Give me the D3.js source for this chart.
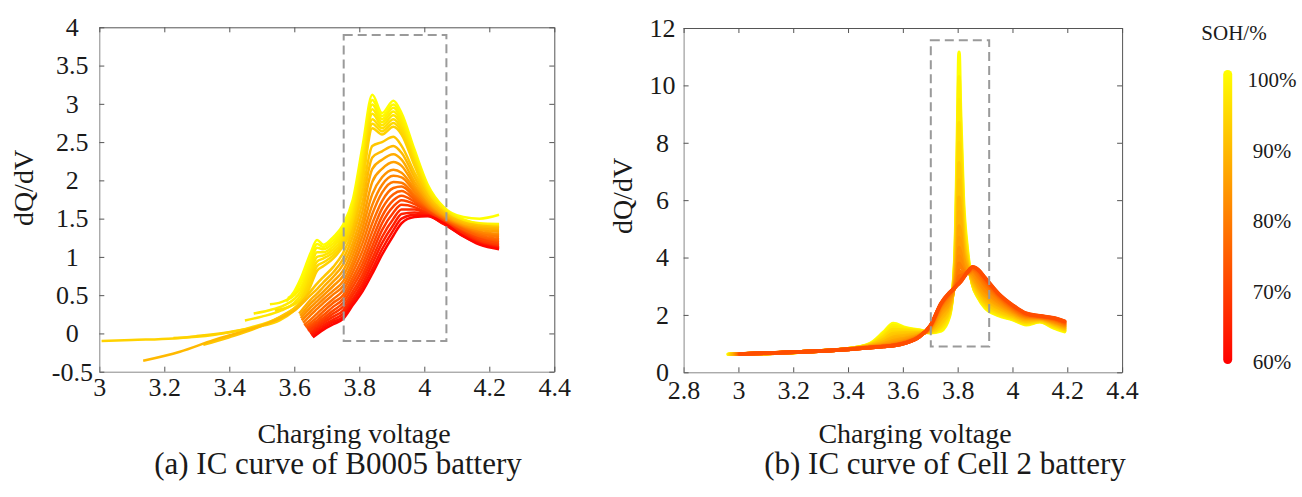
<!DOCTYPE html>
<html><head><meta charset="utf-8">
<script src="https://cdn.jsdelivr.net/npm/d3@7"></script>
<style>
html,body{margin:0;padding:0;background:#fff;}
svg{display:block;}
text{font-family:"Liberation Serif","Times New Roman",serif;fill:#1a1a1a;}
</style></head><body>
<svg id="c" width="1302" height="497"></svg>
<script>
// ---------- (a) B0005 : IC curves ----------
const leftV = [3.62, 3.65, 3.67, 3.69, 3.72, 3.75, 3.78, 3.81, 3.84, 3.87, 3.905, 3.93, 3.97, 4.01, 4.06, 4.12, 4.17, 4.23];
const leftSOH = [100, 99, 98, 97, 96, 95, 94, 93, 91, 89, 87, 85, 83, 81, 79, 77, 75, 73, 71, 69, 67, 65, 63, 61];
const leftTails = [
  [[3.575, 0.42], [3.60, 0.55]],
  [[3.58, 0.46], [3.60, 0.52]],
  [[3.525, 0.38], [3.56, 0.41], [3.60, 0.5]],
  [[3.475, 0.26], [3.52, 0.3], [3.57, 0.37], [3.60, 0.45]],
  [[3.448, 0.17], [3.5, 0.22], [3.56, 0.3], [3.60, 0.4]],
  [[3.54, 0.3], [3.59, 0.36]],
  [[3.228, -0.06], [3.35, -0.02], [3.45, 0.06], [3.55, 0.2], [3.60, 0.33]],
  [[3.007, -0.1], [3.1, -0.085], [3.228, -0.065], [3.3, -0.035], [3.402, 0.02], [3.48, 0.08], [3.556, 0.174], [3.60, 0.3]],
  [[3.32, -0.15], [3.4, -0.05], [3.5, 0.1], [3.57, 0.25], [3.61, 0.36]],
  [[3.135, -0.358], [3.248, -0.24], [3.351, -0.088], [3.454, 0.043], [3.556, 0.196], [3.60, 0.3]],
  [[3.615, 0.26]], [[3.618, 0.23]], [[3.62, 0.2]], [[3.623, 0.17]], [[3.627, 0.14]],
  [[3.63, 0.11]], [[3.633, 0.09]], [[3.637, 0.07]], [[3.64, 0.05]], [[3.643, 0.03]],
  [[3.647, 0.01]], [[3.65, -0.01]], [[3.653, -0.03]], [[3.657, -0.05]]
];
const leftQ = [
  [0.72, 1.05, 1.22, 1.16, 1.26, 1.42, 1.75, 2.45, 3.12, 2.88, 3.04, 2.88, 2.40, 1.95, 1.65, 1.52, 1.50, 1.55],
  [0.66, 0.98, 1.17, 1.13, 1.22, 1.38, 1.70, 2.38, 3.05, 2.84, 2.99, 2.84, 2.37, 1.93, 1.64, 1.49, 1.44, 1.43],
  [0.60, 0.92, 1.12, 1.10, 1.18, 1.34, 1.65, 2.31, 2.99, 2.80, 2.95, 2.80, 2.34, 1.91, 1.63, 1.48, 1.43, 1.42],
  [0.55, 0.86, 1.06, 1.06, 1.14, 1.30, 1.60, 2.25, 2.93, 2.76, 2.90, 2.76, 2.31, 1.89, 1.62, 1.47, 1.42, 1.41],
  [0.50, 0.80, 1.00, 1.02, 1.10, 1.26, 1.55, 2.18, 2.87, 2.72, 2.85, 2.72, 2.28, 1.87, 1.61, 1.46, 1.41, 1.40],
  [0.45, 0.74, 0.94, 0.98, 1.06, 1.22, 1.50, 2.12, 2.80, 2.68, 2.80, 2.68, 2.25, 1.85, 1.60, 1.45, 1.40, 1.39],
  [0.42, 0.68, 0.88, 0.93, 1.02, 1.18, 1.45, 2.05, 2.74, 2.64, 2.75, 2.64, 2.22, 1.83, 1.59, 1.44, 1.39, 1.38],
  [0.38, 0.62, 0.82, 0.88, 0.98, 1.14, 1.40, 1.98, 2.68, 2.60, 2.70, 2.60, 2.19, 1.81, 1.58, 1.43, 1.38, 1.37],
  [null, 0.55, 0.65, 0.74, 0.87, 1.05, 1.35, 1.85, 2.45, 2.50, 2.57, 2.45, 2.10, 1.80, 1.58, 1.45, 1.41, 1.39],
  [null, 0.50, 0.58, 0.67, 0.80, 0.97, 1.27, 1.72, 2.30, 2.38, 2.45, 2.36, 2.04, 1.76, 1.56, 1.43, 1.39, 1.37],
  [null, 0.44, 0.52, 0.61, 0.74, 0.90, 1.18, 1.60, 2.15, 2.27, 2.34, 2.27, 1.98, 1.73, 1.54, 1.41, 1.37, 1.35],
  [null, 0.39, 0.47, 0.55, 0.68, 0.82, 1.10, 1.48, 1.98, 2.15, 2.24, 2.19, 1.93, 1.70, 1.52, 1.40, 1.35, 1.33],
  [null, 0.34, 0.42, 0.50, 0.62, 0.75, 1.02, 1.38, 1.82, 2.04, 2.14, 2.10, 1.89, 1.68, 1.51, 1.39, 1.33, 1.30],
  [null, 0.29, 0.37, 0.45, 0.56, 0.68, 0.94, 1.28, 1.68, 1.94, 2.06, 2.04, 1.85, 1.66, 1.50, 1.38, 1.32, 1.28],
  [null, 0.24, 0.32, 0.40, 0.51, 0.62, 0.87, 1.18, 1.56, 1.84, 1.98, 1.97, 1.81, 1.64, 1.49, 1.37, 1.30, 1.26],
  [null, 0.18, 0.26, 0.34, 0.45, 0.56, 0.80, 1.08, 1.44, 1.73, 1.90, 1.92, 1.78, 1.62, 1.48, 1.36, 1.28, 1.23],
  [null, 0.14, 0.21, 0.29, 0.40, 0.50, 0.73, 0.99, 1.33, 1.63, 1.82, 1.86, 1.75, 1.61, 1.47, 1.35, 1.26, 1.21],
  [null, null, 0.17, 0.24, 0.35, 0.45, 0.67, 0.91, 1.23, 1.53, 1.74, 1.80, 1.72, 1.60, 1.46, 1.33, 1.24, 1.19],
  [null, null, 0.14, 0.20, 0.30, 0.40, 0.61, 0.84, 1.14, 1.44, 1.66, 1.74, 1.69, 1.59, 1.46, 1.32, 1.23, 1.17],
  [null, null, 0.11, 0.17, 0.26, 0.35, 0.55, 0.77, 1.06, 1.35, 1.58, 1.68, 1.65, 1.57, 1.45, 1.31, 1.21, 1.15],
  [null, null, 0.08, 0.14, 0.22, 0.30, 0.50, 0.71, 0.98, 1.26, 1.50, 1.62, 1.62, 1.56, 1.44, 1.30, 1.19, 1.13],
  [null, null, 0.05, 0.11, 0.18, 0.26, 0.45, 0.65, 0.91, 1.18, 1.42, 1.56, 1.58, 1.55, 1.43, 1.28, 1.18, 1.12],
  [null, null, 0.02, 0.08, 0.15, 0.22, 0.41, 0.60, 0.84, 1.10, 1.35, 1.50, 1.55, 1.54, 1.43, 1.27, 1.17, 1.11],
  [null, null, -0.01, 0.05, 0.12, 0.19, 0.37, 0.55, 0.78, 1.03, 1.28, 1.44, 1.52, 1.53, 1.44, 1.27, 1.16, 1.10]
];
const leftXTicks = [3, 3.2, 3.4, 3.6, 3.8, 4, 4.2, 4.4];
const leftYTicks = [-0.5, 0, 0.5, 1, 1.5, 2, 2.5, 3, 3.5, 4];
const leftZoomV = [3.752, 4.068];
const leftZoomQ = [-0.1, 3.9];

// ---------- (b) Cell 2 : IC curves ----------
const rightV = [2.96, 3.10, 3.25, 3.40, 3.48, 3.53, 3.565, 3.61, 3.66, 3.70, 3.74, 3.77, 3.79, 3.80, 3.805, 3.81, 3.82, 3.835, 3.855, 3.875, 3.90, 3.95, 4.00, 4.05, 4.10, 4.15, 4.19];
const rightStartV = [2.962, 2.964, 2.966, 2.968, 2.97, 2.973, 2.976, 2.979, 2.982, 2.985, 2.988, 2.99, 2.993, 2.995, 2.998, 3.0, 3.002, 3.004, 3.006, 3.006];
const rightSOH = [100, 98, 97, 95, 94, 92, 91, 89, 88, 86, 85, 83, 82, 80, 79, 77, 76, 74, 73, 72];
const rightQ = [
  [0.63, 0.66, 0.72, 0.82, 1.00, 1.40, 1.70, 1.55, 1.47, 1.38, 1.45, 1.95, 4.00, 8.60, 11.15, 9.20, 6.20, 4.30, 3.05, 2.60, 2.25, 1.98, 1.84, 1.66, 1.76, 1.55, 1.42],
  [0.63, 0.66, 0.72, 0.82, 0.98, 1.35, 1.63, 1.52, 1.46, 1.39, 1.50, 2.00, 3.90, 7.90, 10.30, 8.70, 5.90, 4.20, 3.05, 2.62, 2.28, 2.00, 1.86, 1.68, 1.77, 1.57, 1.44],
  [0.63, 0.66, 0.72, 0.82, 0.97, 1.30, 1.56, 1.49, 1.44, 1.40, 1.55, 2.05, 3.78, 7.30, 9.50, 8.20, 5.60, 4.10, 3.06, 2.64, 2.31, 2.03, 1.88, 1.70, 1.78, 1.59, 1.46],
  [0.63, 0.66, 0.72, 0.82, 0.96, 1.25, 1.49, 1.46, 1.42, 1.41, 1.60, 2.10, 3.66, 6.80, 8.70, 7.70, 5.35, 4.00, 3.08, 2.67, 2.35, 2.06, 1.90, 1.73, 1.80, 1.61, 1.48],
  [0.63, 0.66, 0.72, 0.81, 0.95, 1.20, 1.42, 1.42, 1.40, 1.42, 1.66, 2.15, 3.55, 6.25, 8.00, 7.20, 5.10, 3.92, 3.10, 2.71, 2.40, 2.10, 1.93, 1.75, 1.81, 1.63, 1.50],
  [0.63, 0.66, 0.72, 0.81, 0.94, 1.15, 1.35, 1.38, 1.38, 1.43, 1.72, 2.20, 3.45, 5.75, 7.30, 6.60, 4.85, 3.85, 3.14, 2.77, 2.45, 2.14, 1.96, 1.78, 1.83, 1.66, 1.52],
  [0.63, 0.66, 0.72, 0.81, 0.93, 1.10, 1.28, 1.33, 1.36, 1.45, 1.80, 2.26, 3.35, 5.30, 6.70, 6.10, 4.65, 3.78, 3.18, 2.83, 2.50, 2.19, 1.99, 1.80, 1.84, 1.68, 1.54],
  [0.63, 0.66, 0.72, 0.81, 0.92, 1.06, 1.22, 1.28, 1.34, 1.46, 1.88, 2.32, 3.28, 4.90, 6.10, 5.65, 4.45, 3.72, 3.22, 2.89, 2.56, 2.24, 2.02, 1.83, 1.86, 1.70, 1.56],
  [0.64, 0.66, 0.72, 0.81, 0.91, 1.02, 1.16, 1.23, 1.32, 1.48, 1.96, 2.38, 3.20, 4.55, 5.60, 5.25, 4.28, 3.66, 3.27, 2.95, 2.62, 2.29, 2.05, 1.85, 1.87, 1.72, 1.58],
  [0.64, 0.66, 0.72, 0.81, 0.90, 0.99, 1.10, 1.19, 1.30, 1.50, 2.04, 2.44, 3.15, 4.25, 5.10, 4.90, 4.10, 3.60, 3.32, 3.01, 2.68, 2.34, 2.08, 1.88, 1.88, 1.74, 1.60],
  [0.64, 0.66, 0.72, 0.81, 0.89, 0.96, 1.05, 1.15, 1.29, 1.52, 2.12, 2.50, 3.10, 4.00, 4.70, 4.55, 3.95, 3.56, 3.38, 3.08, 2.76, 2.39, 2.11, 1.90, 1.89, 1.76, 1.62],
  [0.64, 0.66, 0.72, 0.81, 0.88, 0.94, 1.01, 1.11, 1.28, 1.54, 2.19, 2.56, 3.06, 3.78, 4.35, 4.20, 3.75, 3.50, 3.44, 3.16, 2.84, 2.44, 2.14, 1.92, 1.90, 1.78, 1.64],
  [0.64, 0.67, 0.72, 0.81, 0.88, 0.93, 0.98, 1.08, 1.27, 1.56, 2.25, 2.61, 3.03, 3.60, 4.05, 3.95, 3.62, 3.48, 3.50, 3.26, 2.92, 2.49, 2.17, 1.94, 1.91, 1.80, 1.66],
  [0.64, 0.67, 0.72, 0.80, 0.87, 0.92, 0.96, 1.06, 1.26, 1.58, 2.30, 2.66, 3.00, 3.42, 3.80, 3.72, 3.55, 3.48, 3.54, 3.34, 3.02, 2.55, 2.20, 1.96, 1.92, 1.82, 1.68],
  [0.64, 0.67, 0.72, 0.80, 0.87, 0.91, 0.95, 1.05, 1.25, 1.59, 2.34, 2.70, 2.98, 3.28, 3.55, 3.50, 3.45, 3.48, 3.58, 3.41, 3.09, 2.60, 2.23, 1.98, 1.93, 1.84, 1.70],
  [0.64, 0.67, 0.72, 0.80, 0.86, 0.90, 0.94, 1.04, 1.25, 1.60, 2.37, 2.73, 2.97, 3.18, 3.35, 3.36, 3.40, 3.48, 3.61, 3.48, 3.16, 2.64, 2.26, 2.00, 1.94, 1.86, 1.72],
  [0.64, 0.67, 0.72, 0.80, 0.86, 0.90, 0.93, 1.03, 1.24, 1.61, 2.39, 2.75, 2.96, 3.10, 3.20, 3.24, 3.33, 3.48, 3.64, 3.53, 3.22, 2.68, 2.29, 2.02, 1.95, 1.87, 1.74],
  [0.64, 0.67, 0.72, 0.80, 0.86, 0.90, 0.93, 1.02, 1.24, 1.62, 2.40, 2.76, 2.95, 3.08, 3.14, 3.18, 3.29, 3.48, 3.66, 3.56, 3.27, 2.71, 2.32, 2.04, 1.96, 1.88, 1.76],
  [0.64, 0.67, 0.72, 0.80, 0.86, 0.90, 0.93, 1.02, 1.24, 1.62, 2.41, 2.77, 2.95, 3.06, 3.10, 3.14, 3.27, 3.48, 3.67, 3.57, 3.29, 2.73, 2.34, 2.05, 1.96, 1.89, 1.77],
  [0.64, 0.67, 0.72, 0.80, 0.86, 0.90, 0.93, 1.02, 1.24, 1.62, 2.42, 2.78, 2.96, 3.05, 3.09, 3.15, 3.28, 3.48, 3.68, 3.58, 3.30, 2.74, 2.35, 2.06, 1.97, 1.90, 1.78]
];
const rightXTicks = [2.8, 3, 3.2, 3.4, 3.6, 3.8, 4, 4.2, 4.4];
const rightYTicks = [0, 2, 4, 6, 8, 10, 12];
const rightZoomV = [3.702, 3.915];
const rightZoomQ = [0.9, 11.57];

// ---------- colour bar ----------
const sohTicks = [100, 90, 80, 70, 60];
const sohTickLabels = ["100%", "90%", "80%", "70%", "60%"];

// ================= drawing =================
const svg = d3.select('#c');
const sohColor = d3.scaleLinear().domain([60, 100]).range(['#ff0000', '#ffff00']);

function panel(o) {
  const x = d3.scaleLinear().domain(o.xd).range([o.l, o.r]);
  const y = d3.scaleLinear().domain(o.yd).range([o.b, o.t]);
  const g = svg.append('g');
  const line = d3.line().x(d => x(d[0])).y(d => y(d[1])).curve(d3.curveMonotoneX);
  g.append('g').selectAll('path').data(o.curves).join('path')
    .attr('d', line).attr('fill', 'none')
    .attr('stroke', (d, i) => sohColor(o.soh[i]))
    .attr('stroke-width', o.sw).attr('stroke-linejoin', 'round').attr('stroke-linecap', o.cap);
  // dashed region
  g.append('rect')
    .attr('x', x(o.zv[0])).attr('y', y(o.zq[1]))
    .attr('width', x(o.zv[1]) - x(o.zv[0])).attr('height', y(o.zq[0]) - y(o.zq[1]))
    .attr('fill', 'none').attr('stroke', '#9a9a9a').attr('stroke-width', 2).attr('stroke-dasharray', '9,5');
  // axes
  const bot = g.append('g').attr('transform', `translate(0,${o.b})`)
    .call(d3.axisBottom(x).tickValues(o.xt).tickSizeInner(-5).tickSizeOuter(0).tickPadding(o.xpad).tickFormat(d => String(d)));
  const lef = g.append('g').attr('transform', `translate(${o.l},0)`)
    .call(d3.axisLeft(y).tickValues(o.yt).tickSizeInner(-5).tickSizeOuter(0).tickFormat(d => String(d)));
  g.append('g').attr('transform', `translate(0,${o.t})`)
    .call(d3.axisTop(x).tickValues(o.xt).tickSizeInner(-5).tickSizeOuter(0).tickFormat(''));
  g.append('g').attr('transform', `translate(${o.r},0)`)
    .call(d3.axisRight(y).tickValues(o.yt).tickSizeInner(-5).tickSizeOuter(0).tickFormat(''));
  g.selectAll('.domain').attr('stroke', '#555');
  g.selectAll('.tick line').attr('stroke', '#555');
  bot.select('.domain').attr('stroke', '#888');
  lef.select('.domain').attr('stroke', '#888');
  g.selectAll('.tick text').style('font-family', '"Liberation Serif","Times New Roman",serif')
    .style('font-size', '26px').attr('fill', '#1a1a1a');
  lef.selectAll('.tick text').attr('text-anchor', 'middle').attr('x', -o.ypad);
  // labels
  svg.append('text').attr('x', o.xlx).attr('y', 443).attr('text-anchor', 'middle')
    .style('font-size', '28px').text('Charging voltage');
  svg.append('text').attr('transform', `translate(${o.ylx},${o.yly}) rotate(-90)`).attr('text-anchor', 'middle')
    .style('font-size', '28px').text('dQ/dV');
  svg.append('text').attr('x', o.capx).attr('y', 474).attr('text-anchor', 'middle')
    .style('font-size', '31px').text(o.cap_t);
}

const leftCurves = leftQ.map((row, i) =>
  leftTails[i].concat(leftV.map((v, j) => [v, row[j]]).filter(p => p[1] !== null)));
const rightCurves = rightQ.map((row, i) =>
  rightV.map((v, j) => [j === 0 ? rightStartV[i] : v, row[j]]));

panel({l: 99.3, r: 554.3, t: 27.3, b: 371.7, xd: [3, 4.4], yd: [-0.5, 4],
  xt: leftXTicks, yt: leftYTicks, curves: leftCurves, soh: leftSOH, sw: 2.5, cap: 'butt',
  zv: leftZoomV, zq: leftZoomQ, xpad: 6, ypad: 27,
  xlx: 354, ylx: 33, yly: 188, capx: 338, cap_t: '(a) IC curve of B0005 battery'});

panel({l: 683.6, r: 1122.1, t: 28, b: 372.3, xd: [2.8, 4.4], yd: [0, 12],
  xt: rightXTicks, yt: rightYTicks, curves: rightCurves, soh: rightSOH, sw: 3.6, cap: 'round',
  zv: rightZoomV, zq: rightZoomQ, xpad: 8, ypad: 21,
  xlx: 915, ylx: 632, yly: 196, capx: 945, cap_t: '(b) IC curve of Cell 2 battery'});

// colour bar
const defs = svg.append('defs');
const grad = defs.append('linearGradient').attr('id', 'sohg').attr('x1', 0).attr('y1', 0).attr('x2', 0).attr('y2', 1);
grad.append('stop').attr('offset', '0%').attr('stop-color', sohColor(100));
grad.append('stop').attr('offset', '100%').attr('stop-color', sohColor(60));
svg.append('rect').attr('x', 1223.2).attr('y', 70).attr('width', 9).attr('height', 294).attr('rx', 4.5)
  .attr('fill', 'url(#sohg)');
const sohY = d3.scaleLinear().domain([60, 100]).range([362, 80]);
svg.append('g').selectAll('text').data(sohTicks).join('text')
  .attr('x', 1272).attr('y', d => sohY(d)).attr('dy', '0.35em').attr('text-anchor', 'middle')
  .style('font-size', '21px').text((d, i) => sohTickLabels[i]);
svg.append('text').attr('x', 1234).attr('y', 40).attr('text-anchor', 'middle')
  .style('font-size', '21px').text('SOH/%');
</script>
</body></html>
